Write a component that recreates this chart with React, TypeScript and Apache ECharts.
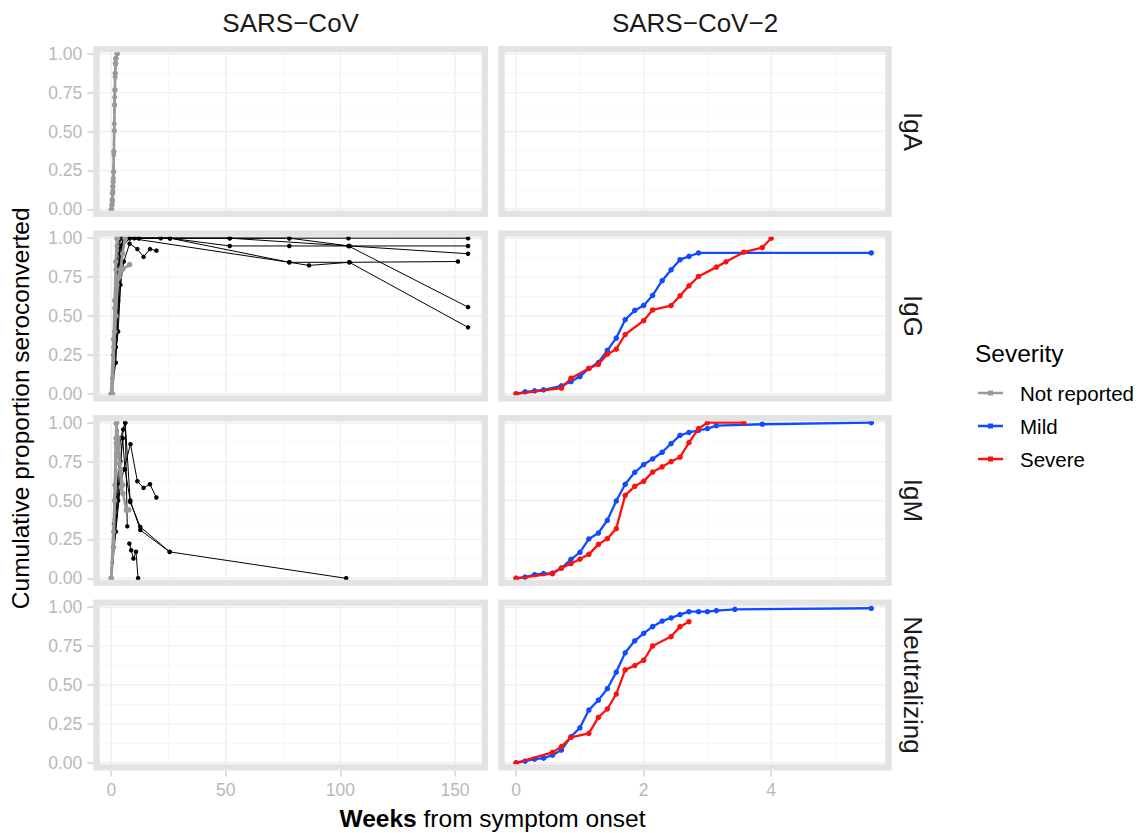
import React, { useEffect, useRef } from "react";
import * as echarts from "echarts";

// ---------- facet labels, ticks ----------
const virusNames = ["SARS\u2212CoV", "SARS\u2212CoV\u22122"];
const assayNames = ["IgA", "IgG", "IgM", "Neutralizing"];
const propTicks = [0, 0.25, 0.5, 0.75, 1];
const propMinor = [0.125, 0.375, 0.625, 0.875];
const weekTicksCoV = [0, 50, 100, 150];
const weekMinorCoV = [25, 75, 125];
const weekTicksCoV2 = [0, 2, 4];
const weekMinorCoV2 = [1, 3, 5];
const severityLevels = ["Not reported", "Mild", "Severe"];

// ---------- SARS-CoV-2 (weeks, proportion) ----------
const igGMildWeeks = [0, 0.14, 0.29, 0.43, 0.71, 0.86, 1.0, 1.14, 1.29, 1.43, 1.57, 1.71, 1.86, 2.0, 2.14, 2.29, 2.43, 2.57, 2.71, 2.86, 5.57];
const igGMildProp = [0, 0.013, 0.019, 0.026, 0.051, 0.079, 0.111, 0.163, 0.201, 0.279, 0.358, 0.476, 0.536, 0.568, 0.632, 0.727, 0.797, 0.862, 0.883, 0.905, 0.905];
const igGSevereWeeks = [0, 0.71, 0.86, 1.14, 1.29, 1.43, 1.57, 1.71, 2.0, 2.14, 2.43, 2.57, 2.71, 2.86, 3.14, 3.29, 3.57, 3.86, 4.0];
const igGSevereProp = [0, 0.036, 0.1, 0.163, 0.19, 0.255, 0.287, 0.381, 0.47, 0.539, 0.567, 0.63, 0.694, 0.754, 0.814, 0.848, 0.91, 0.94, 1.0];

const igMMildWeeks = [0, 0.14, 0.29, 0.43, 0.57, 0.71, 0.86, 1.0, 1.14, 1.29, 1.43, 1.57, 1.71, 1.86, 2.0, 2.14, 2.29, 2.43, 2.57, 2.71, 2.86, 3.0, 3.14, 3.86, 5.57];
const igMMildProp = [0, 0.008, 0.023, 0.03, 0.034, 0.066, 0.122, 0.167, 0.253, 0.291, 0.373, 0.497, 0.604, 0.681, 0.731, 0.767, 0.81, 0.866, 0.919, 0.937, 0.951, 0.962, 0.981, 0.99, 1.0];
const igMSevereWeeks = [0, 0.57, 0.71, 0.86, 1.0, 1.14, 1.29, 1.43, 1.57, 1.71, 1.86, 2.0, 2.14, 2.29, 2.43, 2.57, 2.71, 2.86, 3.0, 3.57];
const igMSevereProp = [0, 0.03, 0.066, 0.094, 0.124, 0.154, 0.218, 0.255, 0.319, 0.533, 0.591, 0.623, 0.683, 0.716, 0.75, 0.778, 0.872, 0.962, 1.0, 1.0];

const neutMildWeeks = [0, 0.14, 0.29, 0.43, 0.57, 0.71, 0.86, 1.0, 1.14, 1.29, 1.43, 1.57, 1.71, 1.86, 2.0, 2.14, 2.29, 2.43, 2.57, 2.71, 2.86, 3.0, 3.14, 3.43, 5.57];
const neutMildProp = [0, 0.011, 0.024, 0.03, 0.049, 0.082, 0.168, 0.225, 0.339, 0.403, 0.476, 0.583, 0.707, 0.784, 0.832, 0.875, 0.911, 0.931, 0.952, 0.971, 0.971, 0.971, 0.978, 0.986, 0.993];
const neutSevereWeeks = [0, 0.57, 0.71, 0.86, 1.14, 1.29, 1.43, 1.57, 1.71, 1.86, 2.0, 2.14, 2.43, 2.57, 2.71];
const neutSevereProp = [0, 0.067, 0.104, 0.164, 0.189, 0.292, 0.346, 0.442, 0.597, 0.625, 0.659, 0.751, 0.811, 0.875, 0.907];

// ---------- SARS-CoV studies ([weeks, proportion]) ----------
const igACovNR1 = [[0, 0], [0.3, 0.028], [0.43, 0.06], [0.58, 0.103], [0.72, 0.146], [0.86, 0.178], [1.0, 0.242], [1.15, 0.371], [1.3, 0.504], [1.44, 0.671], [1.6, 0.767], [1.73, 0.874], [1.88, 0.939], [2.0, 0.97], [2.6, 1.0]];
const igACovNR2 = [[0.2, 0], [0.5, 0.05], [0.7, 0.12], [0.9, 0.2], [1.1, 0.35], [1.3, 0.55], [1.5, 0.72], [1.7, 0.85], [1.9, 0.93], [2.1, 0.97], [2.5, 1.0]];

const igGCovStudy1 = [[0, 0], [1, 0.25], [2, 0.6], [3, 0.95], [4, 1.0], [8, 1.0], [12, 1.0], [21.6, 1.0], [25.6, 1.0], [51.7, 1.0], [77.7, 1.0], [103.5, 1.0], [155.7, 1.0]];
const igGCovStudy2 = [[0, 0], [2, 0.35], [3, 0.8], [4, 1.0], [10, 1.0], [25.6, 1.0], [51.7, 0.95], [77.7, 0.95], [103.9, 0.95], [155.7, 0.95]];
const igGCovStudy3 = [[0, 0], [3, 0.6], [5, 1.0], [12, 1.0], [77.7, 1.0], [103.9, 0.95], [155.7, 0.9]];
const igGCovStudy4 = [[0, 0], [4, 0.95], [6, 1.0], [51.7, 1.0], [103.5, 0.95], [155.7, 0.557]];
const igGCovStudy5 = [[0, 0], [2, 0.2], [4, 0.9], [5, 1.0], [25.6, 1.0], [77.7, 0.845], [103.9, 0.845], [155.7, 0.427]];
const igGCovStudy6 = [[0, 0], [3, 0.4], [5, 0.95], [8, 1.0], [77.7, 0.845], [86.3, 0.825], [103.9, 0.845], [151.3, 0.85]];
const igGCovStudy7 = [[0, 0], [2, 0.3], [4, 0.7], [5.5, 0.85], [8, 0.965], [11.4, 0.93], [14.1, 0.88], [16.9, 0.93], [19.7, 0.92]];
const igGCovStudy8 = [[0, 0], [0.5, 0.1], [1, 0.3], [1.5, 0.5], [2, 0.8], [2.5, 0.95], [3, 1.0]];
const igGCovNR1 = [[0, 0], [1, 0.35], [1.5, 0.6], [2, 0.85], [2.5, 1.0]];
const igGCovNR2 = [[0, 0], [0.5, 0.1], [1, 0.3], [1.5, 0.55], [2, 0.8], [2.5, 0.95], [3, 1.0]];
const igGCovNR3 = [[0.5, 0], [1.5, 0.4], [2.5, 0.7], [3.5, 0.75], [5, 0.8], [8, 0.83]];
const igGCovNR4 = [[0, 0], [2, 0.5], [3, 0.75], [4, 0.8], [5, 0.9], [6, 1.0]];

const igMCovStudy1 = [[0, 0], [2, 0.3], [4, 0.6], [5.5, 0.7], [8.4, 0.862], [11.4, 0.624], [14.1, 0.581], [16.9, 0.604], [19.7, 0.519]];
const igMCovStudy2 = [[0, 0], [3, 0.5], [5.2, 0.956], [6.1, 1.0], [8.3, 0.49], [12.7, 0.33], [25.5, 0.17], [102.5, 0]];
const igMCovStudy3 = [[0, 0], [2, 0.4], [4, 0.75], [5, 0.9], [6, 0.7], [8.3, 0.5], [12.7, 0.31], [25.5, 0.17]];
const igMCovStudy4 = [[0, 0], [4, 0.9], [6.1, 1.0], [7, 0.334]];
const igMCovStudy5 = [[7.9, 0.223], [8.7, 0.18], [9.7, 0.127], [10.8, 0.171], [11.7, 0]];
const igMCovStudy6 = [[0, 0], [0.5, 0.1], [1, 0.35], [1.5, 0.6], [2, 0.8], [2.5, 0.95]];
const igMCovNR1 = [[0, 0], [1, 0.3], [1.5, 0.6], [2, 0.9], [2.5, 1.0]];
const igMCovNR2 = [[0, 0], [1, 0.2], [2.2, 0.866], [2.9, 0.8], [3.6, 0.737], [4.4, 0.587], [5.1, 0.545], [6.6, 0.437], [7.7, 0.44]];
const igMCovNR3 = [[0, 0], [1.5, 0.5], [2.2, 0.995], [3, 0.9], [4, 0.7], [5, 0.6]];

// ---------- layout (pixels) ----------
const colLeft = [93.3, 498.3];
const colWidth = [394.7, 393.4];
const rowTop = [45.9, 230.4, 414.9, 599.4];
const rowHeight = 171.2;
const xRanges = [[-7.83, 164.4], [-0.28, 5.89]];

const FONT = "'Liberation Sans', Arial, Helvetica, sans-serif";
const GRAY = "#999999";
const BLUE = "#0F4CFF";
const RED = "#FF1010";

const zip = (xs: number[], ys: number[]) => xs.map((x, i) => [x, ys[i]]);

type Kind = "black" | "blackDash" | "gray" | "grayDash" | "mild" | "severe";
const seriesSpecs: { row: number; col: number; data: number[][]; kind: Kind }[] = [
  { row: 0, col: 0, data: igACovNR2, kind: "grayDash" },
  { row: 0, col: 0, data: igACovNR1, kind: "gray" },

  { row: 1, col: 0, data: igGCovStudy1, kind: "black" },
  { row: 1, col: 0, data: igGCovStudy2, kind: "black" },
  { row: 1, col: 0, data: igGCovStudy3, kind: "black" },
  { row: 1, col: 0, data: igGCovStudy4, kind: "black" },
  { row: 1, col: 0, data: igGCovStudy5, kind: "black" },
  { row: 1, col: 0, data: igGCovStudy6, kind: "black" },
  { row: 1, col: 0, data: igGCovStudy7, kind: "black" },
  { row: 1, col: 0, data: igGCovStudy8, kind: "blackDash" },
  { row: 1, col: 0, data: igGCovNR1, kind: "gray" },
  { row: 1, col: 0, data: igGCovNR2, kind: "grayDash" },
  { row: 1, col: 0, data: igGCovNR3, kind: "gray" },
  { row: 1, col: 0, data: igGCovNR4, kind: "gray" },

  { row: 2, col: 0, data: igMCovStudy1, kind: "black" },
  { row: 2, col: 0, data: igMCovStudy2, kind: "black" },
  { row: 2, col: 0, data: igMCovStudy3, kind: "black" },
  { row: 2, col: 0, data: igMCovStudy4, kind: "black" },
  { row: 2, col: 0, data: igMCovStudy5, kind: "black" },
  { row: 2, col: 0, data: igMCovStudy6, kind: "blackDash" },
  { row: 2, col: 0, data: igMCovNR1, kind: "grayDash" },
  { row: 2, col: 0, data: igMCovNR2, kind: "gray" },
  { row: 2, col: 0, data: igMCovNR3, kind: "gray" },

  { row: 1, col: 1, data: zip(igGMildWeeks, igGMildProp), kind: "mild" },
  { row: 1, col: 1, data: zip(igGSevereWeeks, igGSevereProp), kind: "severe" },
  { row: 2, col: 1, data: zip(igMMildWeeks, igMMildProp), kind: "mild" },
  { row: 2, col: 1, data: zip(igMSevereWeeks, igMSevereProp), kind: "severe" },
  { row: 3, col: 1, data: zip(neutMildWeeks, neutMildProp), kind: "mild" },
  { row: 3, col: 1, data: zip(neutSevereWeeks, neutSevereProp), kind: "severe" },
];

const kindStyle: Record<Kind, { color: string; width: number; type: any; size: number; z: number }> = {
  black: { color: "#000000", width: 1, type: "solid", size: 4.5, z: 3 },
  blackDash: { color: "#000000", width: 1, type: [3, 3], size: 3.5, z: 3 },
  gray: { color: GRAY, width: 2.6, type: "solid", size: 5.5, z: 4 },
  grayDash: { color: GRAY, width: 2.3, type: [5, 3], size: 5, z: 4 },
  mild: { color: BLUE, width: 2.3, type: "solid", size: 5.5, z: 5 },
  severe: { color: RED, width: 2.3, type: "solid", size: 5.5, z: 6 },
};

export default function App() {
  const ref = useRef<HTMLDivElement>(null);
  useEffect(() => {
    if (!ref.current) return;
    const chart = echarts.init(ref.current, undefined, { renderer: "svg" });
    const grids: any[] = [];
    const xAxes: any[] = [];
    const yAxes: any[] = [];
    for (let r = 0; r < 4; r++) {
      for (let c = 0; c < 2; c++) {
        const i = r * 2 + c;
        grids.push({ left: colLeft[c], top: rowTop[r], width: colWidth[c], height: rowHeight, containLabel: false });
        const bottom = r === 3;
        const xt = c === 0 ? weekTicksCoV : weekTicksCoV2;
        xAxes.push({
          type: "value", gridIndex: i, min: xRanges[c][0], max: xRanges[c][1],
          axisLine: { show: false, onZero: false },
          axisTick: { show: bottom, length: 6, customValues: xt, lineStyle: { color: "#D2D2D2", width: 1.5 } },
          axisLabel: { show: bottom, customValues: xt, color: "#B8B8B8", fontSize: 17.5, fontFamily: FONT, margin: 10 },
          splitLine: { show: false },
        });
        const left = c === 0;
        yAxes.push({
          type: "value", gridIndex: i, min: -0.05, max: 1.05,
          axisLine: { show: false, onZero: false },
          axisTick: { show: left, length: 6, customValues: propTicks, lineStyle: { color: "#D2D2D2", width: 1.5 } },
          axisLabel: { show: left, customValues: propTicks, color: "#B8B8B8", fontSize: 17.5, fontFamily: FONT, margin: 11,
            formatter: (v: number) => v.toFixed(2) },
          splitLine: { show: false },
        });
      }
    }
    const series = seriesSpecs.map((s) => {
      const st = kindStyle[s.kind];
      const i = s.row * 2 + s.col;
      return {
        type: "line", xAxisIndex: i, yAxisIndex: i, data: s.data,
        symbol: "circle", symbolSize: st.size, showSymbol: true, z: st.z, silent: true,
        lineStyle: { color: st.color, width: st.width, type: st.type },
        itemStyle: { color: st.color },
        emphasis: { disabled: true },
      };
    });
    chart.setOption({ animation: false, grid: grids, xAxis: xAxes, yAxis: yAxes, series });

    const els: any[] = [];
    for (let r = 0; r < 4; r++) {
      for (let c = 0; c < 2; c++) {
        const i = r * 2 + c;
        const L = colLeft[c], T = rowTop[r], Wd = colWidth[c], Ht = rowHeight;
        const addH = (v: number, col: string, w: number) => {
          const y = chart.convertToPixel({ yAxisIndex: i } as any, v) as number;
          els.push({ type: "line", z: 0, silent: true, shape: { x1: L, y1: y, x2: L + Wd, y2: y }, style: { stroke: col, lineWidth: w } });
        };
        const addV = (v: number, col: string, w: number) => {
          const x = chart.convertToPixel({ xAxisIndex: i } as any, v) as number;
          els.push({ type: "line", z: 0, silent: true, shape: { x1: x, y1: T, x2: x, y2: T + Ht }, style: { stroke: col, lineWidth: w } });
        };
        propMinor.forEach((v) => addH(v, "#F7F7F7", 1));
        (c === 0 ? weekMinorCoV : weekMinorCoV2).forEach((v) => addV(v, "#F7F7F7", 1));
        propTicks.forEach((v) => addH(v, "#F0F0F0", 1.4));
        (c === 0 ? weekTicksCoV : weekTicksCoV2).forEach((v) => addV(v, "#F0F0F0", 1.4));
        els.push({ type: "rect", z: 20, silent: true, shape: { x: L + 3.2, y: T + 3.2, width: Wd - 6.4, height: Ht - 6.4 },
          style: { fill: "none", stroke: "#E3E3E3", lineWidth: 6.4 } });
      }
    }
    // strip labels
    virusNames.forEach((name, c) => {
      els.push({ type: "text", z: 20, x: colLeft[c] + colWidth[c] / 2, y: 23,
        style: { text: name, fontSize: 26, fontFamily: FONT, fill: "#1A1A1A", align: "center", verticalAlign: "middle" } });
    });
    assayNames.forEach((name, r) => {
      els.push({ type: "text", z: 20, x: 913, y: rowTop[r] + rowHeight / 2, rotation: -Math.PI / 2,
        style: { text: name, fontSize: 26, fontFamily: FONT, fill: "#1A1A1A", align: "center", verticalAlign: "middle" } });
    });
    // axis titles
    els.push({ type: "text", z: 20, x: 20, y: (rowTop[0] + rowTop[3] + rowHeight) / 2, rotation: Math.PI / 2,
      style: { text: "Cumulative proportion seroconverted", fontSize: 24.5, fontFamily: FONT, fill: "#000", align: "center", verticalAlign: "middle" } });
    els.push({ type: "text", z: 20, x: (colLeft[0] + colLeft[1] + colWidth[1]) / 2, y: 818,
      style: { text: "{b|Weeks} from symptom onset", fontSize: 24.5, fontFamily: FONT, fill: "#000", align: "center", verticalAlign: "middle",
        rich: { b: { fontWeight: "bold", fontSize: 24.5, fontFamily: FONT, fill: "#000" } } } });
    // legend
    els.push({ type: "text", z: 20, x: 975, y: 353,
      style: { text: "Severity", fontSize: 24.5, fontFamily: FONT, fill: "#000", align: "left", verticalAlign: "middle" } });
    const legColors = [GRAY, BLUE, RED];
    const legY = [393, 426, 459];
    severityLevels.forEach((lab, k) => {
      const y = legY[k];
      els.push({ type: "line", z: 20, shape: { x1: 978, y1: y, x2: 1003, y2: y }, style: { stroke: legColors[k], lineWidth: 2.5 } });
      els.push({ type: "rect", z: 21, shape: { x: 988, y: y - 2.5, width: 5, height: 5 }, style: { fill: legColors[k] } });
      els.push({ type: "text", z: 20, x: 1020, y,
        style: { text: lab, fontSize: 20.5, fontFamily: FONT, fill: "#000", align: "left", verticalAlign: "middle" } });
    });
    chart.setOption({ graphic: { elements: els } });
    return () => chart.dispose();
  }, []);
  return <div ref={ref} style={{ position: "fixed", left: 0, top: 0, width: 1141, height: 833, background: "#fff" }} />;
}
